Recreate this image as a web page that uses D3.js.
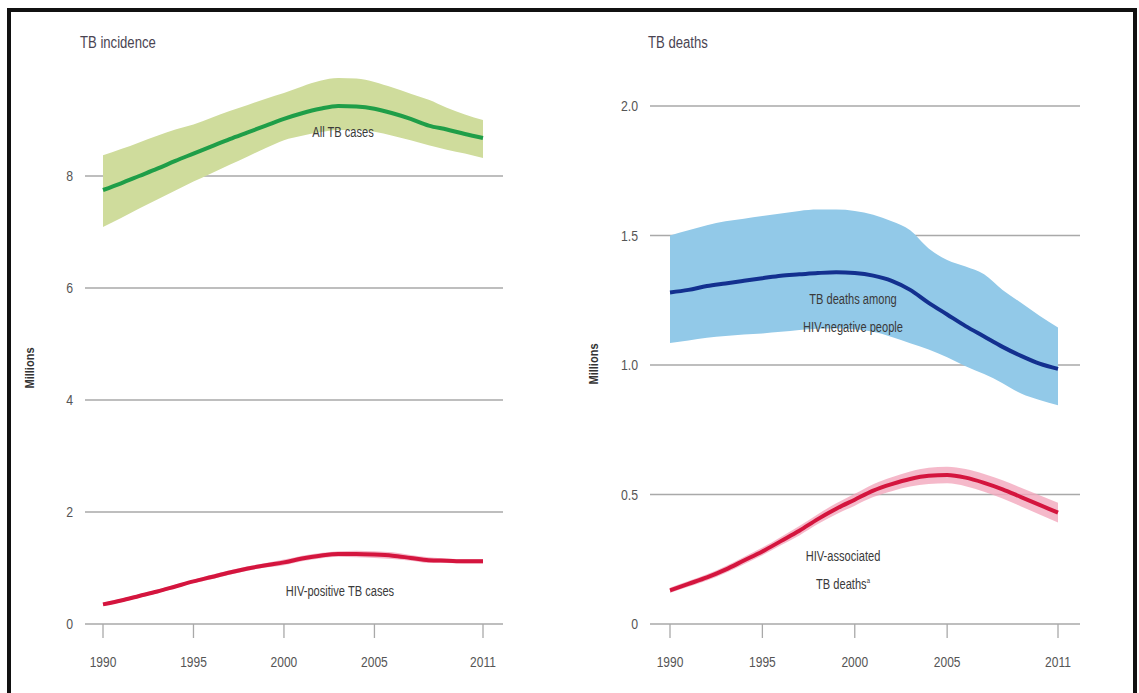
<!DOCTYPE html>
<html>
<head>
<meta charset="utf-8">
<script src="https://cdn.jsdelivr.net/npm/d3@7"></script>
<style>
  body { margin: 0; background: #fff; }
  svg text { font-family: "Liberation Sans", Arial, sans-serif; }
</style>
</head>
<body>
<div id="chart"></div>
<script>
const years = d3.range(1990, 2012);
const yearTicks = [1990, 1995, 2000, 2005, 2011];

// TB incidence (millions)
const allTb      = [7.75, 7.87, 8.0, 8.13, 8.27, 8.4, 8.53, 8.66, 8.78, 8.9, 9.02, 9.12, 9.2, 9.25, 9.24, 9.2, 9.12, 9.02, 8.9, 8.83, 8.75, 8.68];
const allTbHigh  = [8.37, 8.48, 8.6, 8.72, 8.83, 8.92, 9.04, 9.16, 9.27, 9.38, 9.48, 9.6, 9.7, 9.75, 9.74, 9.68, 9.58, 9.47, 9.36, 9.22, 9.1, 9.0];
const allTbLow   = [7.09, 7.25, 7.42, 7.58, 7.74, 7.9, 8.05, 8.2, 8.35, 8.5, 8.64, 8.72, 8.78, 8.82, 8.82, 8.79, 8.72, 8.64, 8.55, 8.47, 8.4, 8.32];
const hivPos     = [0.35, 0.42, 0.5, 0.58, 0.67, 0.76, 0.84, 0.92, 0.99, 1.05, 1.1, 1.17, 1.22, 1.25, 1.25, 1.24, 1.22, 1.18, 1.14, 1.13, 1.12, 1.12];
const hivPosHigh = [0.38, 0.45, 0.53, 0.61, 0.7, 0.79, 0.88, 0.96, 1.03, 1.09, 1.15, 1.22, 1.27, 1.3, 1.31, 1.3, 1.28, 1.23, 1.19, 1.17, 1.16, 1.16];
const hivPosLow  = [0.32, 0.39, 0.47, 0.55, 0.64, 0.73, 0.8, 0.88, 0.95, 1.01, 1.05, 1.12, 1.17, 1.2, 1.19, 1.18, 1.16, 1.13, 1.09, 1.09, 1.08, 1.08];

// TB deaths (millions)
const hivNeg      = [1.28, 1.29, 1.305, 1.315, 1.325, 1.335, 1.345, 1.35, 1.355, 1.358, 1.355, 1.345, 1.325, 1.29, 1.24, 1.195, 1.15, 1.11, 1.07, 1.035, 1.005, 0.985];
const hivNegHigh  = [1.5, 1.52, 1.54, 1.555, 1.565, 1.575, 1.585, 1.595, 1.6, 1.6, 1.595, 1.58, 1.555, 1.52, 1.45, 1.405, 1.38, 1.35, 1.29, 1.24, 1.19, 1.145];
const hivNegLow   = [1.085, 1.095, 1.105, 1.112, 1.118, 1.122, 1.128, 1.135, 1.14, 1.141, 1.138, 1.128, 1.108, 1.084, 1.06, 1.03, 0.995, 0.965, 0.93, 0.89, 0.865, 0.845];
const hivDeaths     = [0.13, 0.155, 0.18, 0.21, 0.245, 0.28, 0.32, 0.36, 0.405, 0.445, 0.48, 0.515, 0.54, 0.56, 0.572, 0.575, 0.565, 0.545, 0.52, 0.49, 0.46, 0.43];
const hivDeathsHigh = [0.14, 0.166, 0.192, 0.223, 0.259, 0.295, 0.336, 0.378, 0.424, 0.466, 0.503, 0.54, 0.567, 0.589, 0.603, 0.607, 0.598, 0.579, 0.555, 0.526, 0.497, 0.468];
const hivDeathsLow  = [0.12, 0.144, 0.168, 0.197, 0.231, 0.265, 0.304, 0.342, 0.386, 0.424, 0.457, 0.49, 0.513, 0.531, 0.541, 0.543, 0.532, 0.511, 0.485, 0.454, 0.423, 0.392];

const incidenceTicks = [0, 2, 4, 6, 8];
const deathTicks = [0, 0.5, 1.0, 1.5, 2.0];

const svg = d3.select("#chart").append("svg")
  .attr("width", 1139)
  .attr("height", 693);

// frame
svg.append("rect")
  .attr("x", 9).attr("y", 10)
  .attr("width", 1126).attr("height", 700)
  .attr("fill", "none")
  .attr("stroke", "#111")
  .attr("stroke-width", 4);

// condensed look: squeeze text horizontally around its anchor point
function squeeze(x, y, s) {
  return `translate(${x},${y}) scale(${s},1)`;
}

function panel(opts) {
  const x = d3.scaleLinear().domain([1990, 2011]).range(opts.xRange);
  const y = d3.scaleLinear().domain(opts.yDomain).range([624, opts.yTop]);
  const g = svg.append("g");

  // gridlines
  g.append("g")
    .selectAll("line")
    .data(opts.yTicks)
    .join("line")
    .attr("x1", opts.gridRange[0]).attr("x2", opts.gridRange[1])
    .attr("y1", d => y(d)).attr("y2", d => y(d))
    .attr("stroke", "#a9a9a9")
    .attr("stroke-width", 1.3);

  // y labels
  g.append("g")
    .selectAll("text")
    .data(opts.yTicks)
    .join("text")
    .attr("transform", d => squeeze(opts.gridRange[0] - 12, y(d) + 5, 0.82))
    .attr("text-anchor", "end")
    .attr("fill", "#555")
    .style("font-size", "15px")
    .text(opts.yFormat);

  // x ticks
  g.append("g")
    .selectAll("line")
    .data(yearTicks)
    .join("line")
    .attr("x1", d => x(d)).attr("x2", d => x(d))
    .attr("y1", 624).attr("y2", 638)
    .attr("stroke", "#a9a9a9")
    .attr("stroke-width", 1.3);

  g.append("g")
    .selectAll("text")
    .data(yearTicks)
    .join("text")
    .attr("transform", d => squeeze(x(d), 667, 0.8))
    .attr("text-anchor", "middle")
    .attr("fill", "#555")
    .style("font-size", "15px")
    .text(d => d);

  g.append("text")
    .attr("transform", squeeze(opts.titleX, 48, 0.82))
    .attr("fill", "#4a4452")
    .style("font-size", "16px")
    .text(opts.title);

  g.append("text")
    .attr("transform", `translate(${opts.unitX},${opts.unitY}) rotate(-90) scale(0.85,1)`)
    .attr("text-anchor", "middle")
    .attr("fill", "#333")
    .style("font-size", "13px")
    .style("font-weight", "bold")
    .text("Millions");

  const area = (lo, hi) => d3.area()
    .x((d, i) => x(years[i]))
    .y0((d, i) => y(lo[i]))
    .y1((d, i) => y(hi[i]))
    .curve(d3.curveMonotoneX)(years);

  const line = vals => d3.line()
    .x((d, i) => x(years[i]))
    .y((d, i) => y(vals[i]))
    .curve(d3.curveMonotoneX)(years);

  for (const s of opts.series) {
    g.append("path")
      .attr("d", area(s.low, s.high))
      .attr("fill", s.band)
      .attr("fill-opacity", s.bandOpacity || 1);
    g.append("path")
      .attr("d", line(s.mid))
      .attr("fill", "none")
      .attr("stroke", s.color)
      .attr("stroke-width", s.width || 4);
  }

  for (const lab of opts.labels) {
    lab.lines.forEach((l, i) => {
      const t = g.append("text")
        .attr("transform", squeeze(lab.x, lab.y + i * 28, 0.74))
        .attr("text-anchor", "middle")
        .attr("fill", "#3a3a3a")
        .style("font-size", "15px");
      t.append("tspan").text(l);
      if (lab.sup && i === lab.lines.length - 1) {
        t.append("tspan").attr("dy", -6).style("font-size", "8px").text(lab.sup);
      }
    });
  }
}

panel({
  xRange: [103, 483],
  gridRange: [85, 503],
  yDomain: [0, 8],
  yTop: 176,
  yTicks: incidenceTicks,
  yFormat: d => d,
  title: "TB incidence",
  titleX: 80,
  unitX: 34, unitY: 368,
  series: [
    { low: allTbLow, high: allTbHigh, mid: allTb, band: "#cfdc9c", color: "#1f9e48", width: 4 },
    { low: hivPosLow, high: hivPosHigh, mid: hivPos, band: "#f2a7bd", bandOpacity: 0.8, color: "#d4153e", width: 4 }
  ],
  labels: [
    { x: 343, y: 137, lines: ["All TB cases"] },
    { x: 340, y: 596, lines: ["HIV-positive TB cases"] }
  ]
});

panel({
  xRange: [670, 1058],
  gridRange: [650, 1080],
  yDomain: [0, 2],
  yTop: 106,
  yTicks: deathTicks,
  yFormat: d => d === 0 ? "0" : d3.format(".1f")(d),
  title: "TB deaths",
  titleX: 648,
  unitX: 598, unitY: 364,
  series: [
    { low: hivNegLow, high: hivNegHigh, mid: hivNeg, band: "#92c9e8", color: "#13308f", width: 4 },
    { low: hivDeathsLow, high: hivDeathsHigh, mid: hivDeaths, band: "#f2a7bd", bandOpacity: 0.8, color: "#d4153e", width: 4 }
  ],
  labels: [
    { x: 853, y: 304, lines: ["TB deaths among", "HIV-negative people"] },
    { x: 843, y: 561, lines: ["HIV-associated", "TB deaths"], sup: "a" }
  ]
});
</script>
</body>
</html>
